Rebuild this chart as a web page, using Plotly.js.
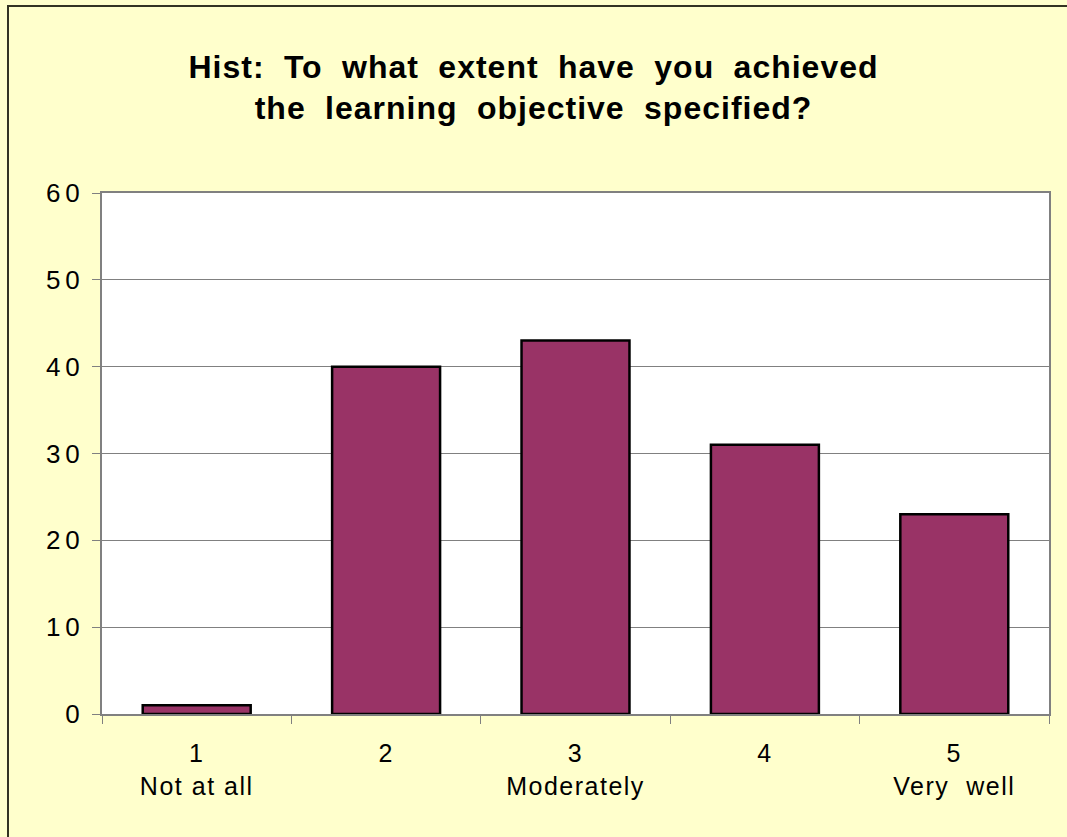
<!DOCTYPE html>
<html>
<head>
<meta charset="utf-8">
<script src="https://cdn.plot.ly/plotly-3.0.1.min.js"></script>
<style>
  body { margin: 0; background: #FFFFCC; }
  #wrap { position: relative; width: 1067px; height: 837px; }
  #frame { position: absolute; left: 7px; top: 5px; right: -10px; bottom: -10px;
           border-left: 2px solid #333322; border-top: 2px solid #333322; pointer-events: none; }
  .gtitle { letter-spacing: 1px; word-spacing: 9.5px; }
  .ytick text { letter-spacing: 5px; }
  .xtick text { letter-spacing: 1.5px; }
</style>
</head>
<body>
<div id="wrap">
  <div id="plot"></div>
  <div id="frame"></div>
</div>
<script>
const categories = ['1<br>Not at all', '2', '3<br>Moderately', '4', '5<br>Very\u00a0 well'];
const counts = [1, 40, 43, 31, 23];

const data = [
  {
    x: categories,
    y: counts,
    type: 'bar',
    marker: {
      color: '#993366',
      line: { color: '#000000', width: 2.5 },
    },
    hoverinfo: 'none',
  },
];

const layout = {
  width: 1067,
  height: 837,
  paper_bgcolor: '#FFFFCC',
  plot_bgcolor: '#FFFFFF',
  margin: { l: 102, r: 18, t: 193, b: 123 },
  showlegend: false,
  bargap: 0.43,
  font: { family: 'Liberation Sans, Arial, sans-serif', color: '#000000', size: 24 },
  title: {
    text: '<b>Hist: To what extent have you achieved<br>the learning objective specified?</b>',
    font: { family: 'Liberation Sans, Arial, sans-serif', size: 32, color: '#000000' },
    x: 0.5,
    xref: 'container',
    y: 0.907,
    yref: 'container',
    yanchor: 'top',
  },
  xaxis: {
    type: 'category',
    tickson: 'boundaries',
    ticks: 'outside',
    ticklen: 8,
    tickcolor: '#808080',
    tickwidth: 1,
    showline: true,
    linecolor: '#808080',
    linewidth: 2,
    mirror: true,
    showgrid: false,
    ticklabelstandoff: 16,
    tickfont: { size: 25 },
  },
  yaxis: {
    range: [0, 60],
    dtick: 10,
    ticks: 'outside',
    ticklen: 8,
    tickcolor: '#808080',
    tickwidth: 1,
    showline: true,
    linecolor: '#808080',
    linewidth: 2,
    mirror: true,
    showgrid: true,
    gridcolor: '#808080',
    gridwidth: 1,
    zeroline: false,
    ticklabelstandoff: 2,
    tickfont: { size: 26 },
  },
};

Plotly.newPlot('plot', data, layout, { displayModeBar: false, staticPlot: true });
</script>
</body>
</html>
